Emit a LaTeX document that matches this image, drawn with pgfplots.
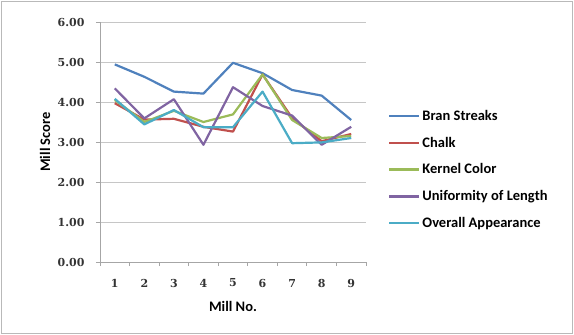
\documentclass[border=0pt]{standalone}
\usepackage{fontspec}
\setmainfont{Carlito}
\newfontfamily\numfont{DejaVu Serif}
\usepackage{pgfplots}
\pgfplotsset{compat=1.18}
\definecolor{cBran}{HTML}{4F81BD}
\definecolor{cChalk}{HTML}{C0504D}
\definecolor{cKernel}{HTML}{9BBB59}
\definecolor{cUnif}{HTML}{8064A2}
\definecolor{cOver}{HTML}{4BACC6}
\begin{document}
\begin{tikzpicture}[x=1pt,y=1pt]
\useasboundingbox (-100,-73) rectangle (474,262);
\draw[gray!55, line width=1pt] (-98,-71) rectangle (472,260);
\begin{axis}[
  at={(0,0)}, anchor=south west,
  scale only axis, width=266pt, height=240pt,
  xmin=0.5, xmax=9.5, ymin=0, ymax=6,
  axis x line*=bottom, axis y line*=left,
  axis line style={gray!70, line width=0.8pt},
  xtick={1,...,9}, major x tick style={draw=none},
  minor xtick={0.5,1.5,...,9.5},
  minor x tick style={gray!70, line width=0.8pt},
  ytick={0,1,...,6},
  major y tick style={gray!70, line width=0.8pt},
  tick align=outside, major tick length=4pt, minor tick length=4pt,
  ymajorgrids, grid style={gray!45, line width=0.8pt},
  yticklabel={\pgfmathprintnumber[fixed, fixed zerofill, precision=2]{\tick}},
  /pgf/number format/assume math mode=true,
  ticklabel style={font=\numfont\bfseries\fontsize{11}{12}\selectfont, text=black!80},
  yticklabel style={anchor=east, xshift=-8pt},
  xticklabel style={anchor=center, yshift=-17pt},
  xlabel={Mill No.}, ylabel={Mill Score},
  label style={font=\bfseries\fontsize{14.5}{16}\selectfont},
  xlabel style={at={(axis description cs:0.5,0)}, anchor=center, yshift=-44.5pt},
  ylabel style={at={(axis description cs:0,0.5)}, anchor=center, yshift=55pt},
  legend style={at={(1.083,0.651)}, anchor=north west, draw=none,
    font=\bfseries\fontsize{14.5}{16}\selectfont, row sep=11.2pt,
    inner xsep=0pt,
    /tikz/every even column/.append style={column sep=0pt}},
  legend cell align=left,
  legend image code/.code={\draw[#1, line width=2.2pt] (0pt,0pt) -- (30pt,0pt);},
  every axis plot/.append style={line width=2.2pt, line join=round},
]
\addplot[cBran] coordinates {(1,4.94) (2,4.63) (3,4.26) (4,4.21) (5,4.98) (6,4.72) (7,4.30) (8,4.16) (9,3.55)};
\addlegendentry{Bran Streaks}
\addplot[cChalk] coordinates {(1,3.97) (2,3.56) (3,3.58) (4,3.38) (5,3.26) (6,4.69) (7,3.60) (8,3.02) (9,3.20)};
\addlegendentry{Chalk}
\addplot[cKernel] coordinates {(1,4.05) (2,3.50) (3,3.78) (4,3.50) (5,3.69) (6,4.69) (7,3.55) (8,3.10) (9,3.15)};
\addlegendentry{Kernel Color}
\addplot[cUnif] coordinates {(1,4.34) (2,3.59) (3,4.07) (4,2.93) (5,4.37) (6,3.90) (7,3.66) (8,2.93) (9,3.38)};
\addlegendentry{Uniformity of Length}
\addplot[cOver] coordinates {(1,4.08) (2,3.44) (3,3.80) (4,3.37) (5,3.37) (6,4.26) (7,2.97) (8,2.99) (9,3.10)};
\addlegendentry{Overall Appearance}
\end{axis}
\end{tikzpicture}
\end{document}
